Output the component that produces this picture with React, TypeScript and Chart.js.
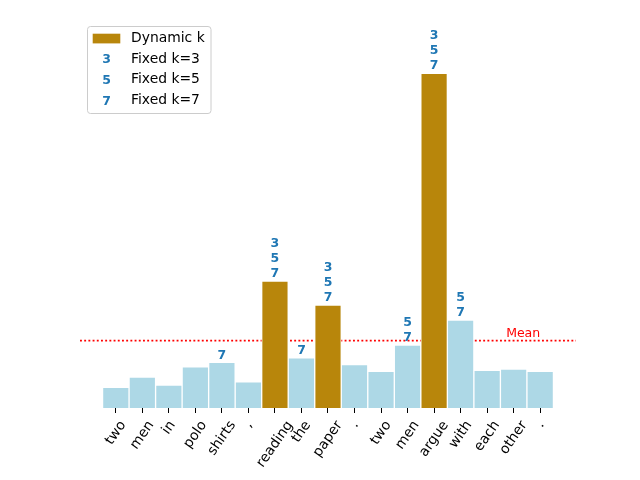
import React, { useEffect, useRef } from 'react';
import { Chart, registerables } from 'chart.js';
Chart.register(...registerables);

const tokens = ['two', 'men', 'in', 'polo', 'shirts', ',', 'reading', 'the', 'paper', '.', 'two', 'men', 'argue', 'with', 'each', 'other', '.'];
const weights = [0.018, 0.027, 0.020, 0.036, 0.040, 0.023, 0.111, 0.044, 0.090, 0.038, 0.032, 0.055, 0.293, 0.077, 0.033, 0.034, 0.032];
const dynamicSel = [6, 8, 12];
const fixedK = [3, 5, 7];
const fixed3Sel = [6, 8, 12];
const fixed5Sel = [6, 8, 11, 12, 13];
const fixed7Sel = [4, 6, 7, 8, 11, 12, 13];
const fixedSels = [fixed3Sel, fixed5Sel, fixed7Sel];
const legendLabels = ['Dynamic k', 'Fixed k=3', 'Fixed k=5', 'Fixed k=7'];

const GOLD = '#b8860b';
const LIGHT = '#add8e6';
const BLUE = '#1f77b4';
const FONT = '"DejaVu Sans", sans-serif';

export default function App() {
  const ref = useRef<HTMLCanvasElement | null>(null);
  useEffect(() => {
    const canvas = ref.current;
    if (!canvas) return;
    const meanVal = weights.reduce((a, b) => a + b, 0) / weights.length;
    const maxVal = Math.max(...weights);

    const overlay = {
      id: 'overlay',
      beforeDatasetsDraw(chart: any) {
        const { ctx, chartArea, scales } = chart;
        const y = scales.y.getPixelForValue(meanVal);
        ctx.save();
        ctx.strokeStyle = '#ff0000';
        ctx.lineWidth = 1.9;
        ctx.setLineDash([1.9, 2.3]);
        ctx.beginPath();
        ctx.moveTo(chartArea.left, y);
        ctx.lineTo(chartArea.right, y);
        ctx.stroke();
        ctx.restore();
      },
      afterDatasetsDraw(chart: any) {
        const { ctx, scales } = chart;
        const xs = scales.x;
        const ys = scales.y;
        ctx.save();
        // annotations above bars
        ctx.fillStyle = BLUE;
        ctx.font = `bold 12.5px ${FONT}`;
        ctx.textAlign = 'center';
        ctx.textBaseline = 'middle';
        weights.forEach((v, i) => {
          const ks: number[] = [];
          fixedK.forEach((k, j) => {
            if (fixedSels[j].includes(i)) ks.push(k);
          });
          const px = xs.getPixelForValue(i);
          const top = ys.getPixelForValue(v);
          for (let n = 0; n < ks.length; n++) {
            const k = ks[ks.length - 1 - n];
            ctx.fillText(String(k), px, top - 7 - n * 15);
          }
        });
        // Mean label
        const my = ys.getPixelForValue(meanVal);
        ctx.fillStyle = '#ff0000';
        ctx.font = `12.5px ${FONT}`;
        ctx.textAlign = 'right';
        ctx.textBaseline = 'alphabetic';
        ctx.fillText('Mean', xs.getPixelForValue(weights.length - 1), my - 4);
        // x tick labels rotated 55deg, centered
        ctx.fillStyle = '#000';
        ctx.font = `13.9px ${FONT}`;
        const th = (55 * Math.PI) / 180;
        const topY = chart.chartArea.bottom + 10;
        tokens.forEach((t, i) => {
          const w = ctx.measureText(t).width;
          const h = 16;
          const bh = w * Math.sin(th) + h * Math.cos(th);
          const cx = xs.getPixelForValue(i);
          const cy = topY + bh / 2;
          ctx.save();
          ctx.translate(cx, cy);
          ctx.rotate(-th);
          ctx.textAlign = 'center';
          ctx.textBaseline = 'middle';
          ctx.fillText(t, 0, 0);
          ctx.restore();
        });
        // legend
        const lx = 87.5, ly = 26.5, lw = 123.5, lh = 87;
        ctx.fillStyle = 'rgba(255,255,255,0.8)';
        ctx.strokeStyle = '#cccccc';
        ctx.lineWidth = 1;
        ctx.beginPath();
        (ctx as any).roundRect(lx, ly, lw, lh, 3);
        ctx.fill();
        ctx.stroke();
        const rows = [38.5, 59.2, 79.8, 100.3];
        legendLabels.forEach((lab, r) => {
          const ry = rows[r];
          if (r === 0) {
            ctx.fillStyle = GOLD;
            ctx.fillRect(92.7, ry - 4.8, 27.6, 9.7);
          } else {
            ctx.fillStyle = BLUE;
            ctx.font = `bold 12.5px ${FONT}`;
            ctx.textAlign = 'center';
            ctx.textBaseline = 'middle';
            ctx.fillText(String(fixedK[r - 1]), 106.5, ry + 1);
          }
          ctx.fillStyle = '#000';
          ctx.font = `13.9px ${FONT}`;
          ctx.textAlign = 'left';
          ctx.textBaseline = 'middle';
          ctx.fillText(lab, 131, ry);
        });
        ctx.restore();
      },
    };

    const chart = new Chart(canvas, {
      type: 'bar',
      data: {
        datasets: [
          {
            data: weights.map((v, i) => ({ x: i, y: v })),
            backgroundColor: weights.map((_, i) => (dynamicSel.includes(i) ? GOLD : LIGHT)),
            borderColor: '#ffffff',
            borderWidth: 1,
            barPercentage: 1,
            categoryPercentage: 1,
          },
        ],
      },
      options: {
        animation: false,
        responsive: false,
        devicePixelRatio: 1,
        layout: { padding: { left: 80, right: 64, top: 23, bottom: 0 } },
        plugins: { legend: { display: false }, tooltip: { enabled: false } },
        scales: {
          x: {
            type: 'linear',
            offset: false,
            min: -1.35,
            max: weights.length - 1 + 1.35,
            afterBuildTicks: (scale: any) => {
              scale.ticks = tokens.map((_, i) => ({ value: i }));
            },
            afterFit: (scale: any) => {
              scale.height = 72;
            },
            ticks: { display: false },
            grid: { display: true, offset: false, drawOnChartArea: false, drawTicks: true, tickLength: 5, color: '#000', lineWidth: 1 },
            border: { display: false },
          },
          y: {
            display: false,
            min: 0,
            max: maxVal * 1.15,
          },
        },
      },
      plugins: [overlay],
    } as any);
    return () => chart.destroy();
  }, []);
  return (
    <div style={{ position: 'absolute', left: 0, top: 0, width: 640, height: 480, background: '#fff' }}>
      <canvas ref={ref} width={640} height={480} />
    </div>
  );
}
